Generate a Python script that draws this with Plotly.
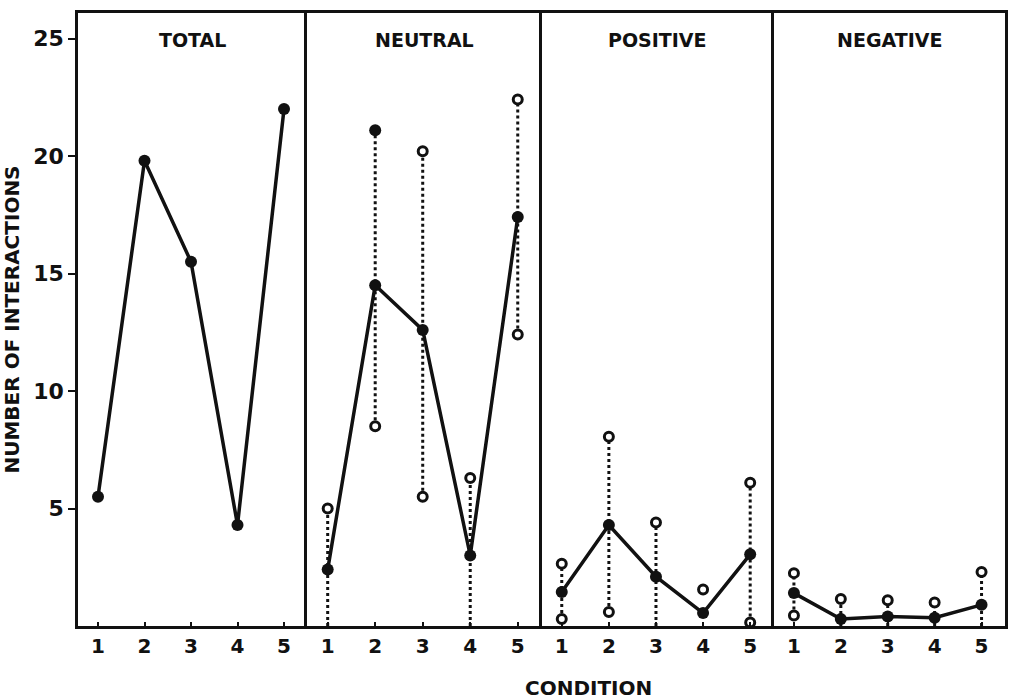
import plotly.graph_objects as go

conditions = [1, 2, 3, 4, 5]
panel_titles = ["TOTAL", "NEUTRAL", "POSITIVE", "NEGATIVE"]
y_ticks = [5, 10, 15, 20, 25]

total_mean = [5.5, 19.8, 15.5, 4.3, 22.0]

neutral_mean = [2.4, 14.5, 12.6, 3.0, 17.4]
neutral_high = [5.0, 21.1, 20.2, 6.3, 22.4]
neutral_high_filled = [False, True, False, False, False]
neutral_low = [None, 8.5, 5.5, None, 12.4]
neutral_dash = [True, True, True, True, True]

positive_mean = [1.45, 4.3, 2.1, 0.55, 3.05]
positive_high = [2.65, 8.05, 4.4, 1.55, 6.1]
positive_high_filled = [False, False, False, False, False]
positive_low = [0.3, 0.6, None, None, 0.15]
positive_dash = [True, True, True, False, True]

negative_mean = [1.4, 0.3, 0.4, 0.35, 0.9]
negative_high = [2.25, 1.15, 1.1, 1.0, 2.3]
negative_high_filled = [False, False, False, False, False]
negative_low = [0.45, None, None, None, None]
negative_dash = [True, True, True, True, True]

W, H = 1011, 700
L, R, T, B = 78, 1008, 13, 626
plot_w = R - L
domains = []
edges = [78, 308, 543, 776, 1008]
for i in range(4):
    domains.append([(edges[i] - L) / plot_w, (edges[i + 1] - L) / plot_w])

fig = go.Figure()
FONT = "DejaVu Sans"
BLACK = "#111"

def add_panel(idx, mean, high=None, high_filled=None, low=None, dash=None):
    xa = "x" if idx == 0 else f"x{idx+1}"
    ya = "y" if idx == 0 else f"y{idx+1}"
    if high is not None:
        for c, h, lo, d in zip(conditions, high, low, dash):
            if d:
                fig.add_trace(go.Scatter(x=[c, c], y=[lo if lo is not None else 0, h],
                                         mode="lines", line=dict(color=BLACK, width=3, dash="dot"),
                                         xaxis=xa, yaxis=ya, showlegend=False, hoverinfo="skip"))
    fig.add_trace(go.Scatter(x=conditions, y=mean, mode="lines+markers",
                             line=dict(color=BLACK, width=3.5),
                             marker=dict(color=BLACK, size=12),
                             xaxis=xa, yaxis=ya, showlegend=False))
    if high is not None:
        xs_open, ys_open, xs_fill, ys_fill = [], [], [], []
        for c, h, f, lo in zip(conditions, high, high_filled, low):
            if f:
                xs_fill.append(c); ys_fill.append(h)
            else:
                xs_open.append(c); ys_open.append(h)
            if lo is not None:
                xs_open.append(c); ys_open.append(lo)
        fig.add_trace(go.Scatter(x=xs_open, y=ys_open, mode="markers",
                                 marker=dict(color="white", size=9, line=dict(color=BLACK, width=3)),
                                 xaxis=xa, yaxis=ya, showlegend=False))
        if xs_fill:
            fig.add_trace(go.Scatter(x=xs_fill, y=ys_fill, mode="markers",
                                     marker=dict(color=BLACK, size=12),
                                     xaxis=xa, yaxis=ya, showlegend=False))

add_panel(0, total_mean)
add_panel(1, neutral_mean, neutral_high, neutral_high_filled, neutral_low, neutral_dash)
add_panel(2, positive_mean, positive_high, positive_high_filled, positive_low, positive_dash)
add_panel(3, negative_mean, negative_high, negative_high_filled, negative_low, negative_dash)

ymax = (B - T) / 23.5
layout = dict(
    width=W, height=H,
    margin=dict(l=L, r=W - R, t=T, b=H - B),
    plot_bgcolor="white", paper_bgcolor="white",
    font=dict(family=FONT, color=BLACK, size=16, weight="bold"),
)
for i in range(4):
    xk = "xaxis" if i == 0 else f"xaxis{i+1}"
    yk = "yaxis" if i == 0 else f"yaxis{i+1}"
    layout[xk] = dict(
        domain=domains[i], range=[0.57, 5.5], anchor="y" if i == 0 else f"y{i+1}",
        tickvals=conditions, ticktext=[str(c) for c in conditions],
        ticks="inside", ticklen=4, tickwidth=2, tickcolor=BLACK,
        showline=True, mirror=True, linecolor=BLACK, linewidth=2.5,
        showgrid=False, zeroline=False, fixedrange=True,
        tickfont=dict(size=20, family=FONT, weight="bold"),
    )
    layout[yk] = dict(
        domain=[0, 1], range=[0, ymax], anchor="x" if i == 0 else f"x{i+1}",
        showline=True, mirror=(i == 3), linecolor=BLACK, linewidth=2.5,
        showgrid=False, zeroline=False, fixedrange=True,
        tickvals=y_ticks if i == 0 else [],
        ticks="outside" if i == 0 else "", ticklen=7, tickwidth=2, tickcolor=BLACK,
        showticklabels=(i == 0),
        tickfont=dict(size=22, family=FONT, weight="bold"),
    )
    if i > 0:
        layout[yk]["matches"] = "y"
layout["yaxis"]["title"] = dict(text="NUMBER OF INTERACTIONS", standoff=12,
                                font=dict(size=20, family=FONT, weight="bold"))
fig.update_layout(**layout)

for i, t in enumerate(panel_titles):
    fig.add_annotation(text=t, x=(domains[i][0] + domains[i][1]) / 2, y=(B - 40) / (B - T),
                       xref="paper", yref="paper", showarrow=False,
                       xanchor="center", yanchor="middle",
                       font=dict(size=19, family=FONT, weight="bold", color=BLACK))
fig.add_annotation(text="CONDITION", x=(590 - L) / plot_w, y=-(688 - B) / (B - T),
                   xref="paper", yref="paper", showarrow=False,
                   xanchor="center", yanchor="middle",
                   font=dict(size=20, family=FONT, weight="bold", color=BLACK))

fig.write_html("out.html")
